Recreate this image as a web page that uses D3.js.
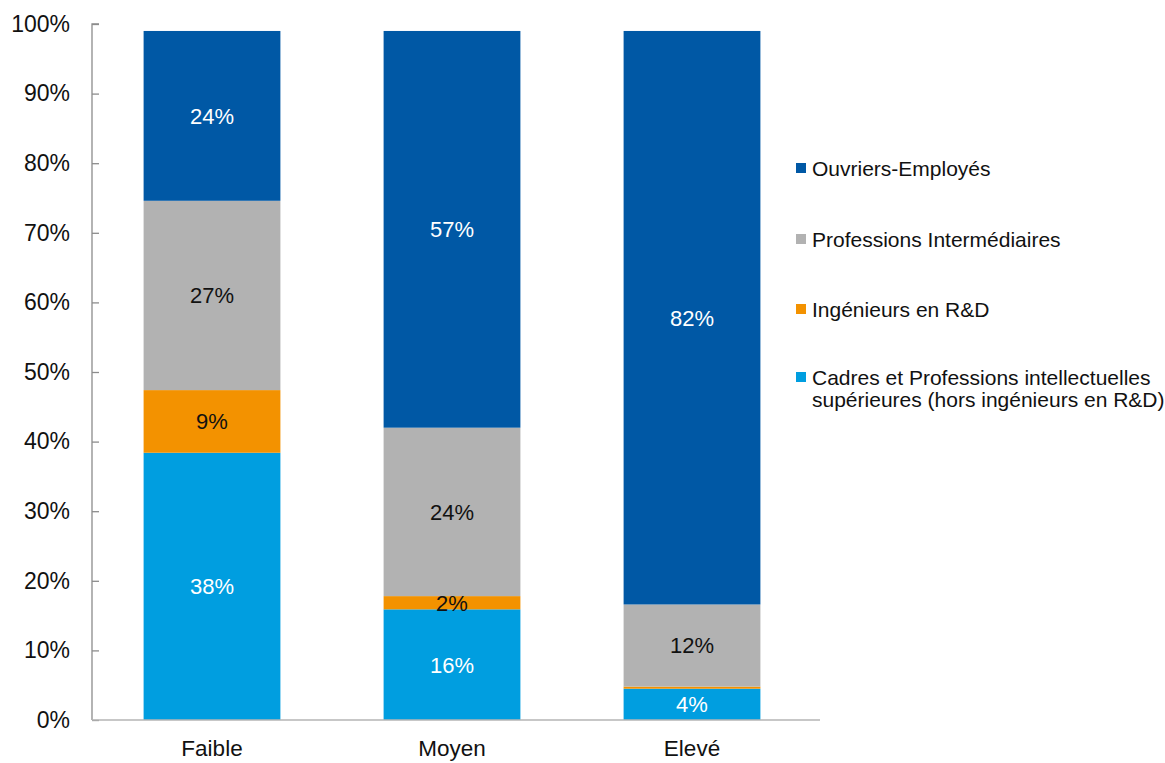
<!DOCTYPE html>
<html>
<head>
<meta charset="utf-8">
<script src="https://cdn.jsdelivr.net/npm/d3@7"></script>
<style>
  html, body { margin: 0; padding: 0; background: #fff; }
  svg { display: block; font-family: "Liberation Sans", Arial, sans-serif; }
</style>
</head>
<body>
<svg id="chart" width="1165" height="763"></svg>
<script>
// Niveaux et catégories socio-professionnelles (parts en %)
const categories = ["Faible", "Moyen", "Elevé"];
const seriesNames = [
  "Cadres et Professions intellectuelles supérieures (hors ingénieurs en R&D)",
  "Ingénieurs en R&D",
  "Professions Intermédiaires",
  "Ouvriers-Employés"
];
const cadres      = [38.4, 15.9, 4.5];
const ingenieurs  = [9.0, 1.9, 0.3];
const professions = [27.2, 24.2, 11.8];
const ouvriers    = [24.4, 57.0, 82.4];
const labelsCadres      = ["38%", "16%", "4%"];
const labelsIngenieurs  = ["9%", "2%", ""];
const labelsProfessions = ["27%", "24%", "12%"];
const labelsOuvriers    = ["24%", "57%", "82%"];
const yTicks = [0, 10, 20, 30, 40, 50, 60, 70, 80, 90, 100];

const colors = ["#009EE0", "#F39200", "#B2B2B2", "#0058A5"];
const textColors = ["#ffffff", "#111111", "#111111", "#ffffff"];

const seriesValues = [cadres, ingenieurs, professions, ouvriers];
const seriesLabels = [labelsCadres, labelsIngenieurs, labelsProfessions, labelsOuvriers];

const rows = categories.map((c, i) => {
  const r = { cat: c };
  seriesNames.forEach((s, k) => r[s] = seriesValues[k][i]);
  return r;
});
const stacked = d3.stack().keys(seriesNames)(rows);

const svg = d3.select("#chart");
const plotLeft = 92, plotRight = 812, plotTop = 24, plotBottom = 720;

const x = d3.scaleBand().domain(categories).range([plotLeft, plotRight])
  .paddingInner(0.43).paddingOuter(0.215);
const y = d3.scaleLinear().domain([0, 100]).range([plotBottom, plotTop]);

// Barres empilées
const layer = svg.append("g").selectAll("g").data(stacked).join("g")
  .attr("fill", (d, k) => colors[k]);
layer.selectAll("rect").data(d => d).join("rect")
  .attr("x", d => x(d.data.cat))
  .attr("width", x.bandwidth())
  .attr("y", d => y(d[1]))
  .attr("height", d => y(d[0]) - y(d[1]));

// Étiquettes de valeur
stacked.forEach((s, k) => {
  svg.append("g").selectAll("text").data(s).join("text")
    .attr("x", d => x(d.data.cat) + x.bandwidth() / 2)
    .attr("y", d => (y(d[0]) + y(d[1])) / 2)
    .attr("dy", "0.36em")
    .attr("text-anchor", "middle")
    .attr("font-size", 22)
    .attr("fill", textColors[k])
    .text((d, i) => seriesLabels[k][i]);
});

// Axe vertical
const yAxis = svg.append("g").attr("transform", `translate(${plotLeft},0)`)
  .call(d3.axisRight(y).tickValues(yTicks).tickSize(7).tickFormat(d => d + "%"));
yAxis.select(".domain").attr("stroke", "#8c8c8c").attr("stroke-width", 1.3)
  .attr("d", `M7,${plotTop}H0V${plotBottom}`);
yAxis.selectAll(".tick line").attr("stroke", "#8c8c8c").attr("stroke-width", 1.3);
yAxis.selectAll(".tick text")
  .attr("x", -22).attr("text-anchor", "end")
  .attr("font-size", 23).attr("fill", "#111111")
  .attr("font-family", "Liberation Sans, Arial, sans-serif");

// Axe horizontal
const xAxis = svg.append("g").attr("transform", `translate(0,${plotBottom})`)
  .call(d3.axisBottom(x).tickSize(0).tickPadding(20));
xAxis.select(".domain").attr("stroke", "#b5b5b5").attr("stroke-width", 1.5)
  .attr("d", `M${plotLeft},0H${plotRight + 8}`);
xAxis.selectAll(".tick text")
  .attr("font-size", 22.5).attr("fill", "#111111")
  .attr("font-family", "Liberation Sans, Arial, sans-serif");

// Légende
const legendItems = [
  { k: 3, lines: ["Ouvriers-Employés"], y: 168 },
  { k: 2, lines: ["Professions Intermédiaires"], y: 239 },
  { k: 1, lines: ["Ingénieurs en R&D"], y: 309 },
  { k: 0, lines: ["Cadres et Professions intellectuelles", "supérieures (hors ingénieurs en R&D)"], y: 377 }
];
const legend = svg.append("g");
legendItems.forEach(it => {
  legend.append("rect")
    .attr("x", 796).attr("y", it.y - 5).attr("width", 10).attr("height", 10)
    .attr("fill", colors[it.k]);
  const t = legend.append("text")
    .attr("x", 812).attr("y", it.y)
    .attr("font-size", 21).attr("fill", "#111111");
  it.lines.forEach((ln, j) => {
    t.append("tspan").attr("x", 812).attr("dy", j === 0 ? "0.36em" : 22).text(ln);
  });
});
</script>
</body>
</html>
